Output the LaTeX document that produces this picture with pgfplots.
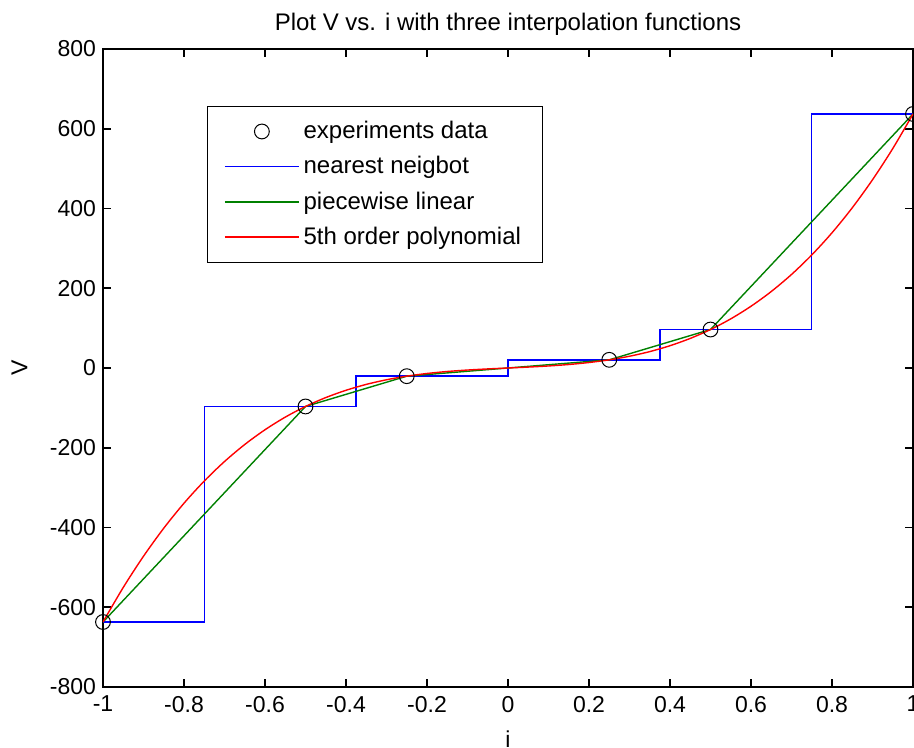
\documentclass[border=0pt]{standalone}
\usepackage{pgfplots}
\pgfplotsset{compat=1.18}
\usepackage{fontspec}
\setmainfont{Liberation Sans}
\begin{document}
\begin{tikzpicture}
\path[use as bounding box] (-51.5pt,-30.5pt) rectangle (405.5pt,343.5pt);
\begin{axis}[
  at={(0,0)}, anchor=south west,
  scale only axis, width=405pt, height=319pt,
  xmin=-1, xmax=1, ymin=-800, ymax=800,
  xtick={-1,-0.8,-0.6,-0.4,-0.2,0,0.2,0.4,0.6,0.8,1},
  ytick={-800,-600,-400,-200,0,200,400,600,800},
  tick align=inside, major tick length=4pt,
  axis line style={line width=0.8pt},
  tick style={line width=0.8pt, black},
  /pgf/number format/assume math mode=true,
  tick label style={font=\fontsize{11.5}{13}\selectfont},
  xticklabel style={yshift=-1pt},
  title={Plot V vs. i with three interpolation functions},
  title style={font=\fontsize{12}{14}\selectfont, yshift=-3pt},
  xlabel={i}, ylabel={V},
  label style={font=\fontsize{11.5}{13}\selectfont},
  xlabel style={at={(axis description cs:0.5,-0.058)}, anchor=north},
  ylabel style={at={(axis description cs:-0.103,0.5)}, anchor=center},
  legend cell align=left,
  legend style={at={(0.128,0.911)}, anchor=north west, draw=black, line width=0.5pt,
    font=\fontsize{12}{14.5}\selectfont, row sep=3.4pt, inner xsep=8.5pt, inner ysep=5.5pt},
  legend image code/.code={\draw[mark repeat=2,mark phase=2,#1] plot coordinates {(0pt,0pt) (18.5pt,0pt) (37pt,0pt)};},
]
\addplot[only marks, mark=o, mark size=3.7pt, black, mark options={line width=0.5pt}]
  coordinates {(-1,-637) (-0.5,-96.5) (-0.25,-20.5) (0.25,20.5) (0.5,96.5) (1,637)};
\addlegendentry{experiments data}
\addplot[blue, line width=0.7pt] coordinates {
  (-1,-637) (-0.75,-637) (-0.75,-96.5) (-0.375,-96.5) (-0.375,-20.5) (0,-20.5)
  (0,20.5) (0.375,20.5) (0.375,96.5) (0.75,96.5) (0.75,637) (1,637)};
\addlegendentry{nearest neigbot}
\addplot[green!50!black, line width=0.7pt] coordinates {
  (-1,-637) (-0.5,-96.5) (-0.25,-20.5) (0.25,20.5) (0.5,96.5) (1,637)};
\addlegendentry{piecewise linear}
\addplot[red, line width=0.7pt, smooth] coordinates {
  (-1,-637) (-0.95,-550.32) (-0.9,-472.07) (-0.85,-401.81) (-0.8,-339.10)
  (-0.75,-283.5) (-0.7,-234.56) (-0.65,-191.83) (-0.6,-154.87) (-0.55,-123.24)
  (-0.5,-96.5) (-0.45,-74.20) (-0.4,-55.89) (-0.35,-41.13) (-0.3,-29.48)
  (-0.25,-20.5) (-0.2,-13.74) (-0.15,-8.75) (-0.1,-5.09) (-0.05,-2.32) (0,0)
  (0.05,2.32) (0.1,5.09) (0.15,8.75) (0.2,13.74) (0.25,20.5)
  (0.3,29.48) (0.35,41.13) (0.4,55.89) (0.45,74.20) (0.5,96.5)
  (0.55,123.24) (0.6,154.87) (0.65,191.83) (0.7,234.56) (0.75,283.5)
  (0.8,339.10) (0.85,401.81) (0.9,472.07) (0.95,550.32) (1,637)};
\addlegendentry{5th order polynomial}
\end{axis}
\end{tikzpicture}
\end{document}
